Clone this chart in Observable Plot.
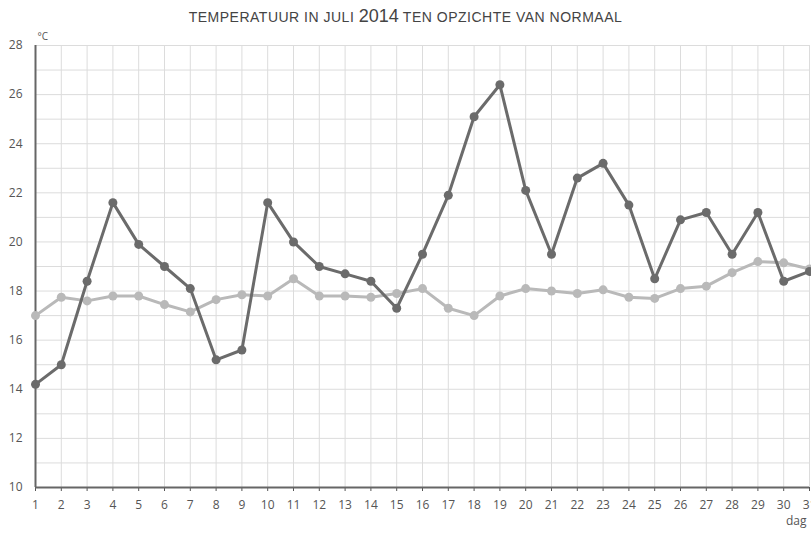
<!DOCTYPE html>
<html>
<head>
<meta charset="utf-8">
<script src="https://cdn.jsdelivr.net/npm/d3@7"></script>
<script src="https://cdn.jsdelivr.net/npm/@observablehq/plot@0.6"></script>
<style>
  body { margin: 0; background: #fff; width: 811px; height: 535px; overflow: hidden; }
  #title { height: 26px; text-align: center; font-family: "Liberation Sans Narrow", "Arial Narrow", "Liberation Sans", sans-serif; font-size: 14px; letter-spacing: 0.5px; color: #444; line-height: 32px; white-space: nowrap; }
  #title .yr { font-size: 18px; letter-spacing: 0; }
</style>
</head>
<body>
<div id="title">TEMPERATUUR IN JULI <span class="yr">2014</span> TEN OPZICHTE VAN NORMAAL</div>
<div id="chart"></div>
<script>
const days = d3.range(1, 32);
const actual = [14.2, 15.0, 18.4, 21.6, 19.9, 19.0, 18.1, 15.2, 15.6, 21.6, 20.0, 19.0, 18.7, 18.4, 17.3, 19.5, 21.9, 25.1, 26.4, 22.1, 19.5, 22.6, 23.2, 21.5, 18.5, 20.9, 21.2, 19.5, 21.2, 18.4, 18.8];
const normal = [17.0, 17.75, 17.6, 17.8, 17.8, 17.45, 17.15, 17.65, 17.85, 17.8, 18.5, 17.8, 17.8, 17.75, 17.9, 18.1, 17.3, 17.0, 17.8, 18.1, 18.0, 17.9, 18.05, 17.75, 17.7, 18.1, 18.2, 18.75, 19.2, 19.15, 18.9];
const yTicks = [10, 12, 14, 16, 18, 20, 22, 24, 26, 28];
const yGrid = d3.range(10, 29);
const yUnit = "°C";
const xUnit = "dag";

const actualData = days.map((d, i) => ({day: d, t: actual[i]}));
const normalData = days.map((d, i) => ({day: d, t: normal[i]}));

const darkC = "#6b6b6b";
const lightC = "#b9b9b9";

const chart = Plot.plot({
  width: 811,
  height: 509,
  marginTop: 19,
  marginBottom: 48,
  marginLeft: 35,
  marginRight: 2,
  style: {fontFamily: "'Open Sans', sans-serif", fontSize: "12px", color: "#555", overflow: "visible"},
  x: {domain: [1, 31], ticks: days},
  y: {domain: [10, 28], ticks: yTicks},
  marks: [
    Plot.gridY(yGrid, {stroke: "#dcdcdc", strokeOpacity: 1}),
    Plot.gridX(days, {stroke: "#dcdcdc", strokeOpacity: 1}),
    Plot.axisY(yTicks, {tickSize: 0, tickPadding: 13, label: null, fill: "#555", fontSize: 12}),
    Plot.axisX(days, {tickSize: 4, tickPadding: 9, label: null, fill: "#555", stroke: "#555", fontSize: 12}),
    Plot.ruleY([10], {stroke: "#666", strokeWidth: 2}),
    Plot.ruleX([1], {stroke: "#666", strokeWidth: 2}),
    Plot.line(normalData, {x: "day", y: "t", stroke: lightC, strokeWidth: 3}),
    Plot.dot(normalData, {x: "day", y: "t", fill: lightC, r: 4.5}),
    Plot.line(actualData, {x: "day", y: "t", stroke: darkC, strokeWidth: 3}),
    Plot.dot(actualData, {x: "day", y: "t", fill: darkC, r: 4.5}),
    Plot.text([yUnit], {frameAnchor: "top-left", dx: 2, dy: -13, textAnchor: "start", fill: "#555", fontSize: 10}),
    Plot.text([xUnit], {frameAnchor: "bottom-right", dx: -3, dy: 37, textAnchor: "end", fill: "#555", fontSize: 12})
  ]
});
document.getElementById("chart").appendChild(chart);
</script>
</body>
</html>
